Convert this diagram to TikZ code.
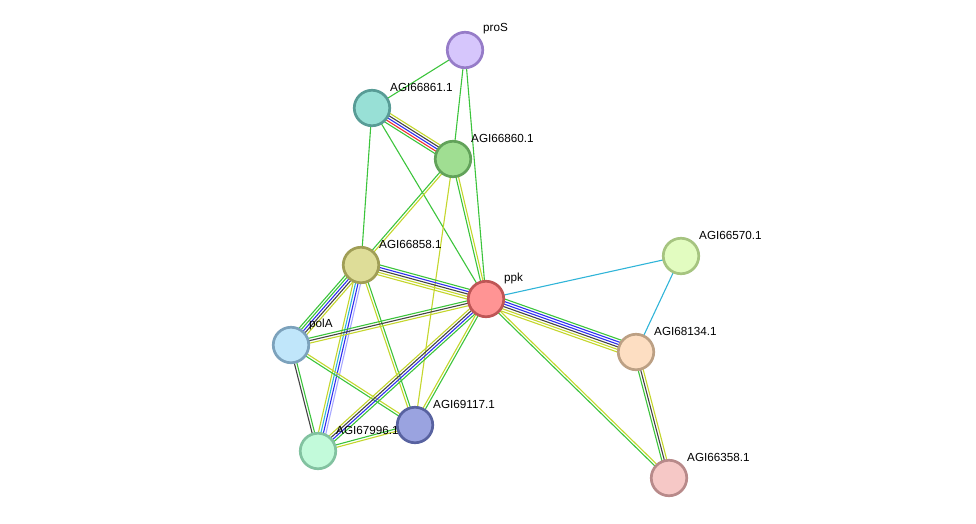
\documentclass[tikz,border=0pt]{standalone}
\usepackage{fontspec}
\setmainfont{Liberation Sans}
\usetikzlibrary{calc}
\pgfdeclarelayer{edges}
\pgfdeclarelayer{labels}
\pgfsetlayers{edges,labels,main}
\definecolor{eg}{HTML}{3CC43C}
\definecolor{ey}{HTML}{C4D62C}
\definecolor{ed}{HTML}{444444}
\definecolor{eb}{HTML}{2E2EF0}
\definecolor{er}{HTML}{F03030}
\definecolor{ec}{HTML}{30B4D8}
\definecolor{el}{HTML}{A8A8FF}
\tikzset{
  prot/.style={circle, minimum size=35.5pt, inner sep=0pt, line width=2.7pt},
  plabel/.style={anchor=west, inner sep=0pt, font=\fontsize{11.7}{13}\selectfont, text=black},
  eline/.style={line width=1.1pt}
}
\newcommand\linkedge[3]{%
  \gdef\nn{0}%
  \foreach \c in {#3}{\xdef\nn{\the\numexpr\nn+1\relax}}%
  \foreach \c [count=\i] in {#3}{%
    \pgfmathsetmacro\off{(\i-(\nn+1)/2)*2.5}%
    \draw[eline, draw=\c] ($(#1.center)!\off pt!90:(#2.center)$) -- ($(#2.center)!\off pt!-90:(#1.center)$);
  }%
}
\begin{document}
\begin{tikzpicture}[x=1pt, y=-1pt]
\useasboundingbox (0,0) rectangle (976,523);
% nodes
\node[prot, fill={rgb,255:red,214;green,198;blue,252}, draw={rgb,255:red,150;green,124;blue,200}] (proS) at (465,50) {};
\node[prot, fill={rgb,255:red,152;green,224;blue,214}, draw={rgb,255:red,88;green,156;blue,150}] (n61) at (372,108) {};
\node[prot, fill={rgb,255:red,160;green,222;blue,146}, draw={rgb,255:red,98;green,162;blue,90}] (n60) at (453,159) {};
\node[prot, fill={rgb,255:red,222;green,221;blue,152}, draw={rgb,255:red,160;green,158;blue,86}] (n58) at (361,265) {};
\node[prot, fill={rgb,255:red,255;green,148;blue,148}, draw={rgb,255:red,190;green,86;blue,86}] (ppk) at (486,299) {};
\node[prot, fill={rgb,255:red,226;green,252;blue,192}, draw={rgb,255:red,166;green,196;blue,128}] (n570) at (681,256) {};
\node[prot, fill={rgb,255:red,192;green,230;blue,250}, draw={rgb,255:red,124;green,162;blue,188}] (polA) at (291,345) {};
\node[prot, fill={rgb,255:red,253;green,222;blue,194}, draw={rgb,255:red,188;green,160;blue,132}] (n134) at (636,352) {};
\node[prot, fill={rgb,255:red,154;green,163;blue,224}, draw={rgb,255:red,88;green,98;blue,160}] (n117) at (415,425) {};
\node[prot, fill={rgb,255:red,194;green,250;blue,218}, draw={rgb,255:red,130;green,194;blue,160}] (n996) at (318,451) {};
\node[prot, fill={rgb,255:red,246;green,200;blue,198}, draw={rgb,255:red,184;green,138;blue,138}] (n358) at (669,478) {};
% labels
\begin{pgfonlayer}{labels}
\node[plabel] (lproS) at ($(proS.center)+(18,-21)$) {proS};
\node[plabel] (l61) at ($(n61.center)+(18,-21)$) {AGI66861.1};
\node[plabel] (l60) at ($(n60.center)+(18,-21)$) {AGI66860.1};
\node[plabel] (l58) at ($(n58.center)+(18,-21)$) {AGI66858.1};
\node[plabel] (lppk) at ($(ppk.center)+(18,-21)$) {ppk};
\node[plabel] (l570) at ($(n570.center)+(18,-21)$) {AGI66570.1};
\node[plabel] (lpolA) at ($(polA.center)+(18,-21)$) {polA};
\node[plabel] (l134) at ($(n134.center)+(18,-21)$) {AGI68134.1};
\node[plabel] (l117) at ($(n117.center)+(18,-21)$) {AGI69117.1};
\node[plabel] (l996) at ($(n996.center)+(18,-21)$) {AGI67996.1};
\node[plabel] (l358) at ($(n358.center)+(18,-21)$) {AGI66358.1};
\end{pgfonlayer}
% edges
\begin{pgfonlayer}{edges}
\linkedge{proS}{n61}{eg}
\linkedge{proS}{n60}{eg}
\linkedge{proS}{ppk}{eg}
\linkedge{n61}{n60}{eg,er,eb,ed,ey}
\linkedge{n61}{n58}{eg}
\linkedge{n61}{ppk}{eg}
\linkedge{n60}{n58}{eg,ey}
\linkedge{n60}{ppk}{eg,ey}
\linkedge{n60}{n117}{ey}
\linkedge{n58}{ppk}{ey,ey,ed,eb,eg}
\linkedge{n58}{polA}{eg,eg,eb,ed,ey}
\linkedge{n58}{n996}{ey,ec,eb,el}
\linkedge{n58}{n117}{ey,eg}
\linkedge{ppk}{polA}{eg,ed,ey}
\linkedge{polA}{n996}{ed,eg}
\linkedge{polA}{n117}{eg,ey}
\linkedge{ppk}{n996}{ey,ed,eb,eg}
\linkedge{ppk}{n117}{ey,eg}
\linkedge{ppk}{n134}{ey,ey,ed,eb,eb,eg}
\linkedge{ppk}{n358}{eg,ey}
\linkedge{ppk}{n570}{ec}
\linkedge{n570}{n134}{ec}
\linkedge{n134}{n358}{eg,ed,ey}
\linkedge{n117}{n996}{eg,ey}
\end{pgfonlayer}
\end{tikzpicture}
\end{document}
